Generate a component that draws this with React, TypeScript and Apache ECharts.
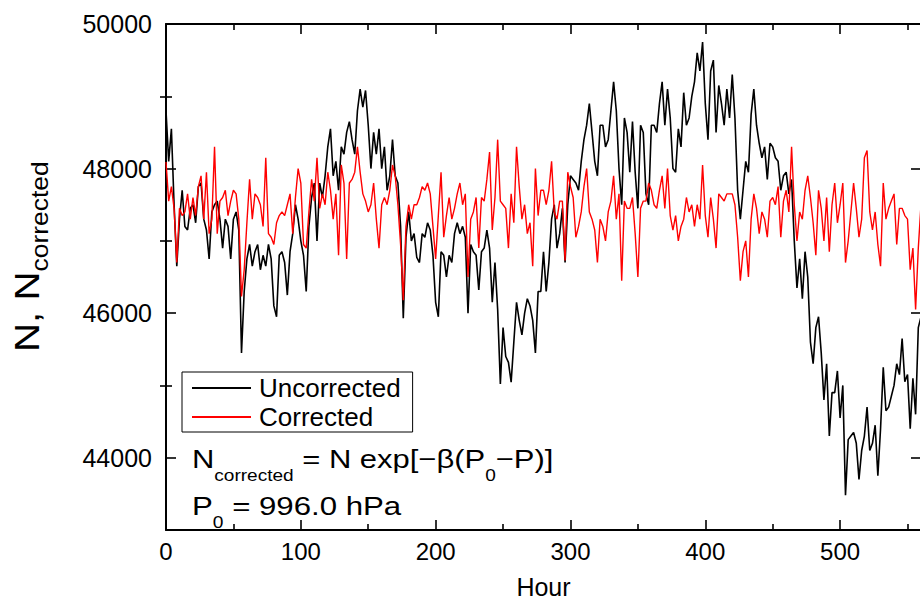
import React, { useEffect, useRef } from "react";
import * as echarts from "echarts";

const HOUR_STEP = 2;
const X_MIN = 0;
const X_MAX = 560;
const X_INTERVAL = 100;
const Y_MIN = 43000;
const Y_MAX = 50000;
const Y_LABEL_TICKS = [44000, 46000, 48000, 50000];
const Y_MINOR_TICKS = [45000, 47000, 49000];
const SERIES_NAMES = ["Uncorrected", "Corrected"];

// Uncorrected neutron counts, every 2 hours from hour 0 to 560
const uncorrected = [
  48800, 48100, 48550, 47500, 46650, 47300, 47700, 47200, 47150, 47450,
  47500, 47250, 47750, 47800, 47300, 47150, 46750, 47400, 47500, 47550,
  47300, 46900, 47300, 47200, 46750, 47300, 47400, 47150, 45450, 46300,
  46750, 46950, 46650, 46850, 46950, 46600, 46800, 46650, 46950, 46750,
  46100, 45950, 46800, 46850, 46700, 46250, 46850, 47100, 47500, 47300,
  47000, 46800, 46300, 47200, 47600, 47800, 47000, 47800, 47600, 47900,
  48300, 48550, 47900, 48100, 47700, 48300, 48200, 48500, 48650, 48400,
  48200, 48800, 49100, 48850, 49080, 48600, 48000, 48500, 48200, 48550,
  48000, 48300, 47700, 47900, 48400, 47900, 47800, 47200, 45930, 47050,
  47400, 47000, 47100, 46770, 46700, 47100, 47050, 47250, 47150, 46800,
  46150, 45950, 46850, 46800, 46500, 46800, 46700, 47100, 47250, 47100,
  47200, 47050, 46000, 46950, 46850, 46800, 46320, 46850, 46900, 47150,
  46900, 46150, 46700, 46050, 45020, 45800, 45400, 45320, 45045, 45600,
  46150, 45900, 45700, 46000, 46200, 46100, 45900, 45450, 46300, 46300,
  46850, 46300, 46700, 47300, 47500, 46900, 47100, 47450, 46700, 47500,
  47900, 47850, 47800, 47700, 48100, 48400, 48600, 48900, 48500, 48100,
  47900, 48600, 48600, 48300, 48400, 48800, 49200, 48800, 48000, 47500,
  48700, 48500, 47950, 48650, 47950, 47450, 48600, 48500, 47650, 47500,
  48600, 48600, 48500, 48900, 49200, 48600, 49100, 48700, 48000, 47950,
  48550, 48300, 49050, 48600, 48700, 49000, 49200, 49600, 49350, 49750,
  48900, 48400, 49350, 49500, 48500, 49150, 48900, 48600, 49100, 48700,
  49300, 48700, 47700, 47300, 47700, 48100, 47950, 48750, 49100, 48600,
  48350, 48150, 48300, 47850, 48350, 48300, 48150, 48100, 47700, 47900,
  47950, 47650, 47850, 47000, 46350, 46750, 46200, 46850, 46500, 45600,
  45300, 45800, 45950, 45450, 44800, 45300, 44300, 44900, 44900, 45200,
  44550, 45000, 43480, 44250, 44300, 44350, 44200, 43700, 44100, 44300,
  44700, 44100, 44200, 44450, 43750, 44400, 45250, 44650, 44700, 44850,
  45000, 45300, 45150, 45650, 45050, 45150, 44400, 45100, 44600, 45800,
  45950,
];

// Pressure-corrected counts, every 2 hours from hour 0 to 560
const corrected = [
  48090, 47550, 47750, 47450, 46700, 47450, 47350, 47400, 47650, 47300,
  47600, 47350, 47750, 47900, 47300, 47950, 47100, 47300, 48300, 47100,
  47550, 47600, 47700, 47350, 47550, 47700, 47650, 47300, 46230, 46600,
  47250, 47850, 47300, 47650, 47600, 47500, 47200, 48150, 47100, 47050,
  46950, 47250, 47350, 47400, 47350, 47500, 47650, 47100, 47600, 48000,
  47800, 46950, 46900, 47400, 47850, 47550, 48150, 47450, 47650, 47500,
  47950, 47700, 47300, 47650, 46800, 48050, 47800, 46750, 47800, 47850,
  47950, 48300, 47950, 47650, 47550, 47400, 47500, 47800, 47300, 46900,
  47500, 47600, 47500, 47700, 48050, 47900, 47500, 46950, 46180, 47200,
  47500, 47300, 47500, 47500, 47600, 47750, 47700, 47800, 47650, 47200,
  46750, 47350, 47950, 47050, 47350, 47600, 47300, 47450, 47650, 47800,
  47500, 47650, 46500, 47300, 47400, 47600, 46900, 47600, 47550, 47850,
  48230, 47150, 47600, 48400, 47550, 47500, 47450, 46900, 47650, 47250,
  48300, 47750, 47300, 47500, 47100, 47250, 46650, 48000, 47350, 47700,
  47700, 47500, 47700, 48100, 47400, 47300, 47550, 47550, 46730, 47950,
  47750, 47600, 47050, 47200, 47400, 47750, 48000, 47400, 47300, 47150,
  46700, 47300, 47200, 47000, 47400, 47550, 47900, 47300, 47650, 46450,
  47550, 47450, 47450, 47600, 47100, 46500, 47450, 47550, 47550, 47800,
  47700, 47500, 47450, 47700, 47900, 47450, 48000, 47350, 47150, 47350,
  47000, 47200, 47300, 47600, 47400, 47500, 47200, 47500, 47300, 48050,
  47350, 47050, 47600, 47300, 46900, 47650, 47600, 47550, 47650, 47650,
  47650, 47500, 47050, 46450, 46850, 47000, 46500, 47300, 47650, 47450,
  47100, 47400, 47300, 47050, 47550, 47600, 47500, 47750, 47050, 47550,
  47700, 47400, 48300, 47500, 47000, 47400, 47300, 47700, 47900, 47600,
  47250, 46800, 47700, 47450, 47000, 47600, 46850, 47500, 47800, 47250,
  47500, 47800, 46700, 47000, 47400, 47800, 47450, 47050, 47300, 48150,
  48250, 47400, 47150, 47400, 46950, 46650, 47800, 47300, 47450, 47550,
  47650, 46950, 47450, 47450, 47350, 47300, 46600, 46900, 46050, 46900,
  47500,
];

const FONT = '"Liberation Sans", Arial, Helvetica, sans-serif';

export default function App() {
  const ref = useRef<HTMLDivElement>(null);

  useEffect(() => {
    if (!ref.current) return;
    const chart = echarts.init(ref.current, null, { renderer: "svg" });
    const toPairs = (arr: number[]) => arr.map((v, i) => [i * HOUR_STEP, v]);
    const lineStyle = { color: "#000", width: 2 };
    const tickLine = { color: "#000", width: 1.6 };
    const plain = (v: number) => String(v);

    const xBase = {
      type: "value",
      min: X_MIN,
      max: X_MAX,
      interval: X_INTERVAL,
      axisLine: { show: true, onZero: false, lineStyle },
      axisTick: { show: true, inside: true, length: 10, lineStyle: tickLine },
      minorTick: { show: true, splitNumber: 2, length: 6, lineStyle: tickLine },
      splitLine: { show: false },
    };
    const yMajor = (position: string, labels: boolean) => ({
      type: "value",
      position,
      min: Y_MIN,
      max: Y_MAX,
      axisLine: { show: true, onZero: false, lineStyle },
      axisTick: { show: true, inside: true, length: 10, customValues: Y_LABEL_TICKS, lineStyle: tickLine },
      axisLabel: labels
        ? {
            show: true,
            customValues: Y_LABEL_TICKS,
            formatter: plain,
            fontSize: 25,
            fontFamily: FONT,
            color: "#000",
            margin: 14,
          }
        : { show: false },
      splitLine: { show: false },
    });
    const yMinor = (position: string) => ({
      type: "value",
      position,
      min: Y_MIN,
      max: Y_MAX,
      axisLine: { show: false },
      axisTick: { show: true, inside: true, length: 6, customValues: Y_MINOR_TICKS, lineStyle: tickLine },
      axisLabel: { show: false },
      splitLine: { show: false },
    });

    chart.setOption({
      animation: false,
      backgroundColor: "#fff",
      grid: { left: 166, right: 19, top: 24, bottom: 68, containLabel: false },
      legend: {
        orient: "vertical",
        left: 182,
        top: 372,
        padding: [3, 12, 2, 10],
        itemGap: 3,
        itemWidth: 59,
        itemHeight: 2,
        icon: "rect",
        borderColor: "#000",
        borderWidth: 1,
        backgroundColor: "#fff",
        data: SERIES_NAMES,
        textStyle: { fontSize: 26, fontFamily: FONT, color: "#000", lineHeight: 26, padding: [0, 0, 0, 3] },
      },
      xAxis: [
        {
          ...xBase,
          position: "bottom",
          axisLabel: {
            show: true,
            showMaxLabel: false,
            formatter: plain,
            fontSize: 24,
            fontFamily: FONT,
            color: "#000",
            margin: 9,
          },
          name: "Hour",
          nameLocation: "middle",
          nameGap: 44,
          nameTextStyle: { fontSize: 25, fontFamily: FONT, color: "#000" },
        },
        { ...xBase, position: "top", axisLabel: { show: false } },
      ],
      yAxis: [yMajor("left", true), yMinor("left"), yMajor("right", false), yMinor("right")],
      series: [
        {
          name: SERIES_NAMES[0],
          type: "line",
          xAxisIndex: 0,
          yAxisIndex: 0,
          data: toPairs(uncorrected),
          showSymbol: false,
          symbol: "none",
          color: "#000",
          lineStyle: { color: "#000", width: 1.6 },
        },
        {
          name: SERIES_NAMES[1],
          type: "line",
          xAxisIndex: 0,
          yAxisIndex: 0,
          data: toPairs(corrected),
          showSymbol: false,
          symbol: "none",
          color: "#ff0000",
          lineStyle: { color: "#ff0000", width: 1.4 },
        },
      ],
      graphic: [
        {
          type: "text",
          x: 27,
          y: 352,
          rotation: Math.PI / 2,
          scaleX: 1.15,
          z: 100,
          style: {
            text: "{n|N, N}{s|corrected}",
            align: "left",
            verticalAlign: "middle",
            fill: "#000",
            rich: {
              n: { fontSize: 35, fontFamily: FONT, lineHeight: 50, verticalAlign: "middle", fill: "#000" },
              s: { fontSize: 23, fontFamily: FONT, lineHeight: 24, verticalAlign: "bottom", fill: "#000" },
            },
          },
        },
        {
          type: "text",
          x: 192,
          y: 459,
          scaleX: 1.19,
          z: 100,
          style: {
            text: "{n|N}{s|corrected}{n| = N exp[\u2212\u03B2(P}{s|0}{n|\u2212P)]}",
            align: "left",
            verticalAlign: "middle",
            fill: "#000",
            rich: {
              n: { fontSize: 26, fontFamily: FONT, lineHeight: 50, verticalAlign: "middle", fill: "#000" },
              s: { fontSize: 16, fontFamily: FONT, lineHeight: 18, verticalAlign: "bottom", fill: "#000" },
            },
          },
        },
        {
          type: "text",
          x: 192,
          y: 506,
          scaleX: 1.2,
          z: 100,
          style: {
            text: "{n|P}{s|0}{n| = 996.0 hPa}",
            align: "left",
            verticalAlign: "middle",
            fill: "#000",
            rich: {
              n: { fontSize: 26, fontFamily: FONT, lineHeight: 50, verticalAlign: "middle", fill: "#000" },
              s: { fontSize: 16, fontFamily: FONT, lineHeight: 18, verticalAlign: "bottom", fill: "#000" },
            },
          },
        },
      ],
    });

    return () => chart.dispose();
  }, []);

  return (
    <div
      style={{
        position: "fixed",
        left: 0,
        top: 0,
        width: 920,
        height: 604,
        overflow: "hidden",
        background: "#fff",
      }}
    >
      <div ref={ref} style={{ width: 940, height: 604 }} />
    </div>
  );
}
